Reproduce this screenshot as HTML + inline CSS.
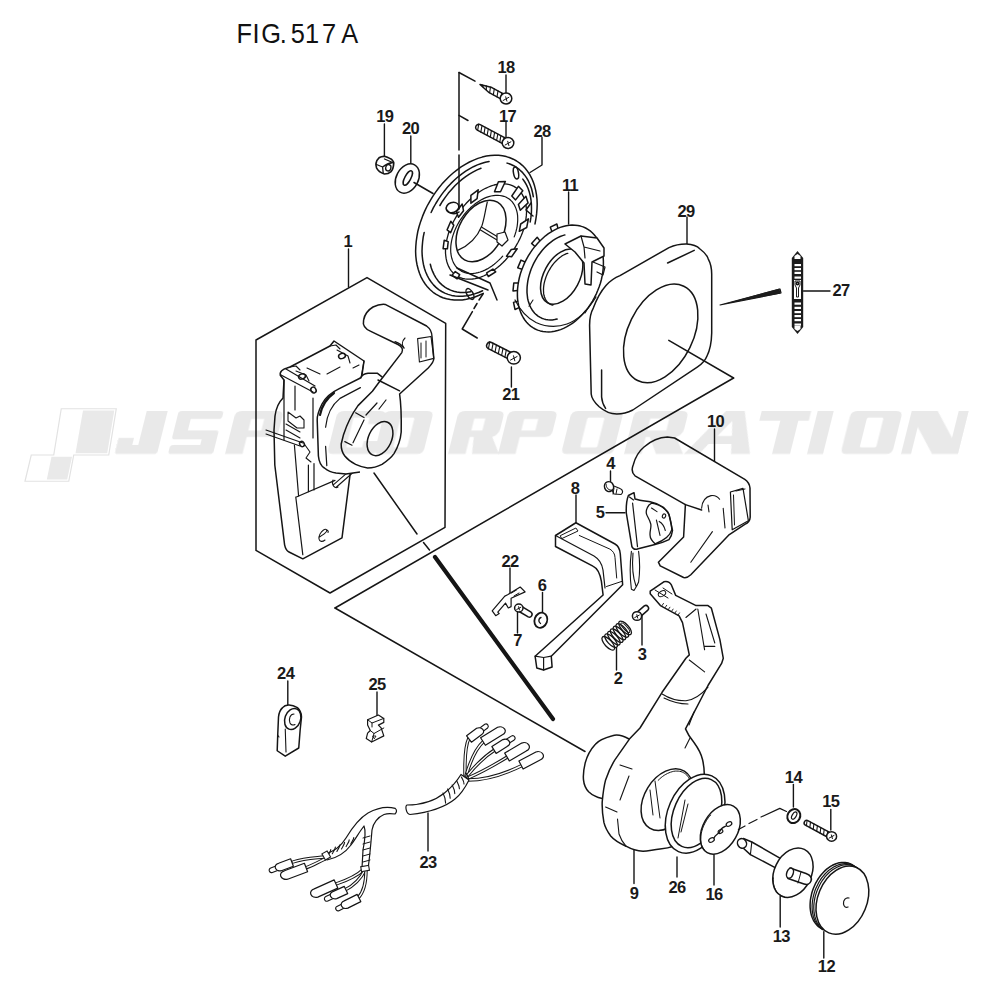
<!DOCTYPE html>
<html><head><meta charset="utf-8">
<style>
html,body{margin:0;padding:0;background:#fff;width:1000px;height:1000px;overflow:hidden}
svg{display:block}
.l{fill:none;stroke:#151515;stroke-width:1.5;stroke-linecap:round;stroke-linejoin:round}
.w{fill:#fff;stroke:#151515;stroke-width:1.5;stroke-linejoin:round}
.t{font-family:"Liberation Sans",sans-serif;font-weight:bold;font-size:16.5px;fill:#1a1a1a;text-anchor:middle;letter-spacing:-0.6px}
.wm{fill:#e8e8e8}
</style></head><body>
<svg width="1000" height="1000" viewBox="0 0 1000 1000">
<text transform="translate(244.2,42.6) scale(0.92,1)" x="0" y="0" style="font-family:'Liberation Sans',sans-serif;font-size:27.6px;fill:#111;text-anchor:middle">F</text>
<text transform="translate(256,42.6) scale(0.92,1)" x="0" y="0" style="font-family:'Liberation Sans',sans-serif;font-size:27.6px;fill:#111;text-anchor:middle">I</text>
<text transform="translate(271.2,42.6) scale(0.92,1)" x="0" y="0" style="font-family:'Liberation Sans',sans-serif;font-size:27.6px;fill:#111;text-anchor:middle">G</text>
<text transform="translate(283.4,42.6) scale(0.92,1)" x="0" y="0" style="font-family:'Liberation Sans',sans-serif;font-size:27.6px;fill:#111;text-anchor:middle">.</text>
<text transform="translate(297.9,42.6) scale(0.92,1)" x="0" y="0" style="font-family:'Liberation Sans',sans-serif;font-size:27.6px;fill:#111;text-anchor:middle">5</text>
<text transform="translate(312.0,42.6) scale(0.92,1)" x="0" y="0" style="font-family:'Liberation Sans',sans-serif;font-size:27.6px;fill:#111;text-anchor:middle">1</text>
<text transform="translate(329.1,42.6) scale(0.92,1)" x="0" y="0" style="font-family:'Liberation Sans',sans-serif;font-size:27.6px;fill:#111;text-anchor:middle">7</text>
<text transform="translate(349.6,42.6) scale(0.92,1)" x="0" y="0" style="font-family:'Liberation Sans',sans-serif;font-size:27.6px;fill:#111;text-anchor:middle">A</text>
<text class="t" x="506" y="73.1">18</text>
<line class="l" x1="506" y1="75" x2="506" y2="95" style="stroke-width:1.4"/>
<text class="t" x="507.5" y="121.6">17</text>
<line class="l" x1="506" y1="122.5" x2="506" y2="137" style="stroke-width:1.4"/>
<text class="t" x="384.75" y="122.1">19</text>
<line class="l" x1="384.4" y1="124" x2="384.4" y2="157" style="stroke-width:1.4"/>
<text class="t" x="410.6" y="133.6">20</text>
<line class="l" x1="410.8" y1="136" x2="410.8" y2="163" style="stroke-width:1.4"/>
<text class="t" x="542" y="136.6">28</text>
<text class="t" x="570" y="190.6">11</text>
<line class="l" x1="568.6" y1="192" x2="568.6" y2="224" style="stroke-width:1.4"/>
<text class="t" x="347.8" y="246.6">1</text>
<line class="l" x1="348.5" y1="249" x2="348.5" y2="287" style="stroke-width:1.4"/>
<text class="t" x="686" y="216.6">29</text>
<line class="l" x1="687" y1="217" x2="687" y2="245" style="stroke-width:1.4"/>
<text class="t" x="841" y="296.1">27</text>
<line class="l" x1="803.5" y1="291" x2="830" y2="291" style="stroke-width:1.4"/>
<text class="t" x="510.8" y="400.0">21</text>
<line class="l" x1="511.4" y1="367" x2="511.4" y2="387" style="stroke-width:1.4"/>
<text class="t" x="715.5" y="427.1">10</text>
<line class="l" x1="714.5" y1="429" x2="714.5" y2="461" style="stroke-width:1.4"/>
<text class="t" x="610.5" y="468.6">4</text>
<line class="l" x1="610.5" y1="471" x2="610.5" y2="481.5" style="stroke-width:1.4"/>
<text class="t" x="600" y="517.6">5</text>
<line class="l" x1="606" y1="512.7" x2="625" y2="512.7" style="stroke-width:1.4"/>
<text class="t" x="575" y="493.6">8</text>
<line class="l" x1="576" y1="495" x2="576" y2="522.5" style="stroke-width:1.4"/>
<text class="t" x="510" y="566.6">22</text>
<line class="l" x1="510" y1="568" x2="510" y2="593" style="stroke-width:1.4"/>
<text class="t" x="542" y="590.6">6</text>
<line class="l" x1="542.5" y1="592.5" x2="542.5" y2="613" style="stroke-width:1.4"/>
<text class="t" x="517.5" y="646.1">7</text>
<line class="l" x1="517.5" y1="612" x2="517.5" y2="633" style="stroke-width:1.4"/>
<text class="t" x="642" y="659.6">3</text>
<line class="l" x1="642" y1="615" x2="642" y2="645" style="stroke-width:1.4"/>
<text class="t" x="618" y="683.6">2</text>
<line class="l" x1="616.5" y1="648" x2="616.5" y2="670" style="stroke-width:1.4"/>
<text class="t" x="285.7" y="678.6">24</text>
<line class="l" x1="287.8" y1="681" x2="287.8" y2="706" style="stroke-width:1.4"/>
<text class="t" x="377" y="689.6">25</text>
<line class="l" x1="377" y1="692" x2="377" y2="717" style="stroke-width:1.4"/>
<text class="t" x="428" y="867.6">23</text>
<line class="l" x1="428" y1="813" x2="428" y2="851" style="stroke-width:1.4"/>
<text class="t" x="634" y="899.0">9</text>
<line class="l" x1="634" y1="850.5" x2="634" y2="883.5" style="stroke-width:1.4"/>
<text class="t" x="677" y="892.6">26</text>
<line class="l" x1="677" y1="857" x2="677" y2="877" style="stroke-width:1.4"/>
<text class="t" x="714" y="899.6">16</text>
<line class="l" x1="714" y1="854.6" x2="714" y2="885" style="stroke-width:1.4"/>
<text class="t" x="793.4" y="783.2">14</text>
<line class="l" x1="793.4" y1="784.5" x2="793.4" y2="807" style="stroke-width:1.4"/>
<text class="t" x="830.8" y="807.4">15</text>
<line class="l" x1="830.8" y1="809.5" x2="830.8" y2="830" style="stroke-width:1.4"/>
<text class="t" x="781.3" y="941.6">13</text>
<line class="l" x1="780.2" y1="896" x2="780.2" y2="927" style="stroke-width:1.4"/>
<text class="t" x="826.4" y="972.4">12</text>
<line class="l" x1="823.8" y1="931.6" x2="823.8" y2="958" style="stroke-width:1.4"/>
<path class="l" d="M542,137.5 L542,165 L530,172.5" style="stroke-width:1.4"/>
<path class="l" d="M256,340 L367,277.6 L445.7,323.4 L445,527.3 L330,593 L256,550.4 Z"/>
<line class="l" x1="335" y1="608" x2="733.6" y2="378"/>
<line class="l" x1="335" y1="608" x2="585" y2="751.5"/>
<line class="l" x1="374" y1="473" x2="417" y2="534"/>
<line class="l" x1="423.5" y1="542.5" x2="429.5" y2="550"/>
<line class="l" x1="435" y1="557" x2="553" y2="719" style="stroke-width:4.2"/>
<path class="l" d="M459,72.5 L475,81.2"/>
<path class="l" d="M459,115.4 L468,120.5"/>
<path class="w" d="M480.0,84.5 L489.2,92.7 L502.1,99.7 L504.8,94.6 L491.9,87.6 Z"/>
<path class="l" d="M483.1,87.0 L482.1,84.8" style="stroke-width:1.1"/>
<path class="l" d="M486.4,89.9 L486.3,85.9" style="stroke-width:1.1"/>
<path class="l" d="M489.6,92.8 L490.5,87.0" style="stroke-width:1.1"/>
<path class="l" d="M493.3,94.9 L494.3,88.9" style="stroke-width:1.1"/>
<path class="l" d="M497.0,96.9 L498.0,90.9" style="stroke-width:1.1"/>
<path class="l" d="M500.7,99.0 L501.7,92.9" style="stroke-width:1.1"/>
<ellipse class="w" cx="506" cy="98.5" rx="5.8" ry="5.51" transform="rotate(0 506 98.5)"/>
<path class="l" d="M503.1,100.5 L508.9,97.3 M505.7,96.8 L506.9,101.1" style="stroke-width:1.0"/>
<path class="w" d="M477.3,130.2 L504.0,144.4 L506.9,138.9 L480.2,124.7 A3.1,3.1 0 0 0 477.3,130.2 Z"/>
<path class="l" d="M477.6,130.4 L478.8,124.0" style="stroke-width:1.1"/>
<path class="l" d="M480.8,132.1 L482.0,125.7" style="stroke-width:1.1"/>
<path class="l" d="M484.0,133.7 L485.1,127.3" style="stroke-width:1.1"/>
<path class="l" d="M487.1,135.4 L488.3,129.0" style="stroke-width:1.1"/>
<path class="l" d="M490.3,137.1 L491.4,130.7" style="stroke-width:1.1"/>
<path class="l" d="M493.5,138.8 L494.6,132.4" style="stroke-width:1.1"/>
<path class="l" d="M496.6,140.5 L497.8,134.1" style="stroke-width:1.1"/>
<path class="l" d="M499.8,142.2 L500.9,135.7" style="stroke-width:1.1"/>
<path class="l" d="M503.0,143.8 L504.1,137.4" style="stroke-width:1.1"/>
<ellipse class="w" cx="508" cy="143" rx="5.8" ry="5.51" transform="rotate(0 508 143)"/>
<path class="l" d="M505.1,145.0 L510.9,141.8 M507.7,141.3 L508.9,145.6" style="stroke-width:1.0"/>
<path class="w" d="M384.4,156.3 C388,157.5 391,158.5 392.2,160 C393.5,161.5 393.8,162.5 393.7,163.5 C393.5,167 392.5,170 391,171.6 C389,173.5 386.5,174 384.4,174 C381,173 378,171 376.6,168 C376,166 375.8,164.5 376,163.5 C376.5,161 377.5,159 379,157.8 C381,156.5 383,156.2 384.4,156.3 Z" style="stroke-width:1.7"/>
<path class="l" d="M376.5,164.5 L382.6,167 L383.2,173 M382.6,167 C385,165 389,163 393,162.5 M384.5,159 L391.5,162" style="stroke-width:1.3"/>
<ellipse class="l" cx="388.3" cy="167.8" rx="2.6" ry="3.2" transform="rotate(15 388.3 167.8)" style="stroke-width:1.3"/>
<ellipse class="w" cx="407.3" cy="178.5" rx="11" ry="15.5" transform="rotate(28 407.3 178.5)"/>
<ellipse class="l" cx="407.8" cy="178" rx="3" ry="8" transform="rotate(28 407.8 178)"/>
<line class="l" x1="414" y1="182.5" x2="433" y2="193.5"/>
<path class="w" style="stroke:none" d="M515.8,160.5 L518.9,162.6 L521.9,164.9 L524.6,167.6 L527.0,170.6 L529.3,173.8 L531.2,177.4 L532.9,181.1 L534.3,185.1 L535.5,189.3 L536.3,193.7 L536.9,198.2 L537.1,202.9 L537.1,207.7 L536.8,212.6 L536.1,217.6 L535.2,222.6 L534.0,227.7 L532.5,232.7 L530.8,237.8 L528.8,242.7 L526.5,247.7 L524.0,252.5 L521.2,257.2 L518.3,261.7 L515.1,266.1 L511.7,270.3 L508.2,274.3 L504.5,278.0 L500.7,281.5 L496.7,284.8 L492.7,287.8 L488.6,290.4 L484.4,292.8 L480.2,294.9 L475.9,296.6 L471.7,298.0 L467.5,299.1 L463.3,299.8 L459.2,300.1 L455.2,300.1 L451.2,299.8 L447.5,299.1 L443.8,298.0 L440.3,296.6 L437.0,294.9 L433.9,292.8 L430.9,290.5 L428.2,287.8 L425.8,284.8 L423.5,281.6 L421.6,278.0 L419.9,274.3 L418.5,270.3 L417.3,266.1 L416.5,261.7 L415.9,257.2 L415.7,252.5 L415.7,247.7 L416.0,242.8 L416.7,237.8 L417.6,232.8 L418.8,227.7 L420.3,222.7 L422.0,217.6 L424.0,212.7 L426.3,207.7 L428.8,202.9 L431.6,198.2 L434.5,193.7 L437.7,189.3 L441.1,185.1 L444.6,181.1 L448.3,177.4 L452.1,173.9 L456.1,170.6 L460.1,167.6 L464.2,165.0 L468.4,162.6 L472.6,160.5 L476.9,158.8 L481.1,157.4 L485.3,156.3 L489.5,155.6 L493.6,155.3 L497.6,155.3 L501.6,155.6 L505.3,156.3 L509.0,157.4 L512.5,158.8 L515.8,160.5 Z"/>
<path class="l" d="M483.3,293.4 L479.1,295.3 L474.9,297.0 L470.6,298.3 L466.4,299.3 L462.3,299.9 L458.2,300.1 L454.2,300.1 L450.3,299.6 L446.5,298.8 L442.9,297.7 L439.5,296.2 L436.2,294.4 L433.1,292.3 L430.2,289.8 L427.6,287.1 L425.2,284.0 L423.0,280.7 L421.1,277.1 L419.5,273.3 L418.2,269.3 L417.1,265.0 L416.3,260.6 L415.8,256.0 L415.6,251.3 L415.8,246.5 L416.2,241.5 L416.9,236.6 L417.8,231.5 L419.1,226.5 L420.7,221.4 L422.5,216.4 L424.6,211.4 L426.9,206.5 L429.5,201.8 L432.3,197.1 L435.3,192.6 L438.5,188.3 L441.9,184.1 L445.5,180.2 L449.2,176.5 L453.1,173.0 L457.1,169.8 L461.1,166.9 L465.3,164.3 L469.5,162.0 L473.7,160.1 L477.9,158.4 L482.2,157.1 L486.4,156.1 L490.5,155.5 L494.6,155.3 L498.6,155.3 L502.5,155.8 L506.3,156.6 L509.9,157.7 L513.3,159.2 L516.6,161.0 L519.7,163.1 L522.6,165.6 L525.2,168.3 L527.6,171.4 L529.8,174.7 L531.7,178.3 L533.3,182.1 L534.6,186.1 L535.7,190.4 L536.5,194.8 L537.0,199.4 L537.2,204.1 L537.0,208.9 L536.6,213.9 L535.9,218.8 L535.0,223.9"/>
<path class="l" d="M482.6,290.7 L478.6,292.5 L474.5,293.9 L470.6,295.0 L466.6,295.8 L462.7,296.2 L458.9,296.2 L455.2,296.0 L451.6,295.4 L448.1,294.4 L444.8,293.1 L441.7,291.5 L438.7,289.6 L436.0,287.4 L433.5,284.9 L431.2,282.0 L429.1,279.0 L427.3,275.6 L425.7,272.0 L424.4,268.2 L423.4,264.2 L422.7,260.1 L422.2,255.7 L422.0,251.2 L422.2,246.6 L422.6,242.0 L423.2,237.2 L424.2,232.4"/>
<path class="l" d="M470.8,291.8 L467.2,292.3 L463.7,292.5 L460.2,292.4 L456.9,291.9 L453.7,291.2 L450.6,290.1 L447.7,288.8 L444.9,287.1 L442.3,285.1 L439.9,282.9 L437.8,280.4 L435.8,277.6 L434.1,274.6 L432.6,271.4 L431.3,268.0 L430.3,264.3"/>
<path class="l" d="M431.1,212.5 L433.3,207.9 L435.8,203.5 L438.5,199.1 L441.4,194.9 L444.4,190.9 L447.6,187.1 L451.0,183.4 L454.5,180.0 L458.1,176.8 L461.9,173.9 L465.7,171.2 L469.5,168.8 L473.4,166.7 L477.4,164.9 L481.3,163.5 L485.3,162.3 L489.1,161.4"/>
<path class="l" d="M439.9,205.5 L442.5,201.2 L445.4,197.1 L448.4,193.1 L451.6,189.4 L454.9,185.8 L458.4,182.5 L462.0,179.4 L465.7,176.6 L469.4,174.1 L473.3,171.9 L477.1,169.9 L481.0,168.3"/>
<path class="l" d="M507.1,163.1 L510.5,164.2 L513.7,165.7 L516.7,167.5 L519.5,169.7 L522.1,172.1 L524.5,174.9 L526.6,177.9 L528.5,181.2 L530.1,184.7 L531.5,188.5 L532.5,192.5 L533.3,196.7"/>
<path class="l" d="M522.8,179.1 L524.8,182.0 L526.6,185.1 L528.1,188.5 L529.3,192.1 L530.3,196.0 L531.0,200.0 L531.4,204.1 L531.5,208.5 L531.4,212.9 L530.9,217.4 L530.2,222.0"/>
<path class="l" d="M515.8,187.6 L517.7,189.0 L519.4,190.6 L520.9,192.4 L522.2,194.4 L523.4,196.6 L524.4,198.9 L525.2,201.5 L525.8,204.1 L526.2,206.9 L526.5,209.8 L526.5,212.8 L526.3,215.9 L525.9,219.1 L525.4,222.4 L524.6,225.7 L523.7,229.0 L522.6,232.3 L521.3,235.6 L519.8,238.9 L518.1,242.2 L516.3,245.4 L514.4,248.6 L512.3,251.6 L510.1,254.6 L507.8,257.4 L505.3,260.2 L502.8,262.8 L500.2,265.2 L497.5,267.5 L494.8,269.6 L492.0,271.5 L489.2,273.2 L486.4,274.7 L483.5,276.0 L480.7,277.1 L477.9,278.0 L475.2,278.6 L472.5,279.0 L469.9,279.2 L467.3,279.1 L464.9,278.8 L462.5,278.3 L460.3,277.6 L458.1,276.6 L456.2,275.4 L454.3,274.0 L452.6,272.4 L451.1,270.6 L449.8,268.6 L448.6,266.4 L447.6,264.1 L446.8,261.5 L446.2,258.9 L445.8,256.1 L445.5,253.2 L445.5,250.2 L445.7,247.1 L446.1,243.9 L446.6,240.6 L447.4,237.3 L448.3,234.0 L449.4,230.7 L450.7,227.4 L452.2,224.1 L453.9,220.8 L455.7,217.6 L457.6,214.4 L459.7,211.4 L461.9,208.4 L464.2,205.6 L466.7,202.8 L469.2,200.2 L471.8,197.8 L474.5,195.5 L477.2,193.4 L480.0,191.5 L482.8,189.8 L485.6,188.3 L488.5,187.0 L491.3,185.9 L494.1,185.0 L496.8,184.4 L499.5,184.0 L502.1,183.8 L504.7,183.9 L507.1,184.2 L509.5,184.7 L511.7,185.4 L513.9,186.4 L515.8,187.6" style="stroke-width:1.3"/>
<path class="l" d="M502.7,256.1 L500.7,258.3 L498.6,260.4 L496.4,262.4 L494.2,264.2 L491.9,265.9 L489.6,267.5 L487.3,268.9 L484.9,270.1 L482.6,271.1 L480.2,272.0 L477.9,272.6 L475.6,273.1 L473.4,273.4 L471.2,273.5 L469.0,273.4 L467.0,273.1 L465.0,272.6 L463.1,272.0 L461.3,271.1 L459.7,270.1 L458.1,268.9 L456.7,267.5 L455.4,265.9 L454.3,264.2 L453.3,262.4 L452.5,260.4 L451.8,258.3 L451.3,256.1 L450.9,253.7 L450.7,251.3 L450.7,248.8 L450.8,246.2 L451.1,243.6 L451.6,240.9 L452.2,238.1 L453.0,235.4 L453.9,232.7 L455.0,229.9 L456.2,227.2 L457.6,224.5 L459.1,221.9 L460.7,219.3 L462.5,216.8 L464.3,214.4 L466.2,212.1 L468.3,209.9 L470.4,207.8 L472.6,205.9 L474.8,204.1 L477.1,202.4 L479.4,200.9 L481.7,199.6 L484.1,198.4 L486.4,197.4 L488.8,196.6 L491.1,196.0 L493.4,195.6 L495.6,195.4 L497.8,195.3 L499.9,195.5 L502.0,195.8 L503.9,196.3 L505.8,197.0 L507.5,198.0 L509.2,199.0 L510.7,200.3 L512.1,201.7 L513.3,203.3 L514.4,205.0 L515.3,206.9 L516.1,208.9 L516.8,211.1 L517.3,213.4 L517.6,215.7 L517.7,218.2 L517.7,220.7 L517.5,223.3 L517.2,226.0 L516.7,228.7 L516.0,231.4 L515.2,234.1 L514.2,236.9" style="stroke-width:1.2"/>
<path class="w" d="M494.5,191.8 L498.4,181.7 L505.4,181.5 L500.5,191.7 Z" style="stroke-width:1.5"/>
<path class="w" d="M511.8,196.0 L518.4,186.3 L522.8,190.8 L515.6,199.9 Z" style="stroke-width:1.5"/>
<path class="w" d="M518.4,204.5 L525.9,196.2 L528.1,202.9 L520.3,210.3 Z" style="stroke-width:1.5"/>
<path class="w" d="M520.7,224.0 L528.4,218.9 L526.7,227.5 L519.3,231.3 Z" style="stroke-width:1.5"/>
<path class="w" d="M511.3,249.5 L517.2,248.8 L511.6,256.7 L506.5,256.2 Z" style="stroke-width:1.5"/>
<path class="w" d="M492.9,269.1 L495.7,271.9 L488.3,276.5 L486.6,272.9 Z" style="stroke-width:1.5"/>
<path class="w" d="M459.7,274.7 L457.1,278.9 L452.0,275.3 L455.3,271.6 Z" style="stroke-width:1.5"/>
<path class="w" d="M447.4,248.8 L443.1,248.7 L444.2,240.3 L448.2,241.6 Z" style="stroke-width:1.5"/>
<path class="w" d="M450.6,232.7 L447.1,229.9 L450.8,221.2 L453.8,225.3 Z" style="stroke-width:1.5"/>
<path class="w" d="M458.5,217.3 L456.4,211.8 L462.2,204.0 L463.5,210.7 Z" style="stroke-width:1.5"/>
<path class="w" d="M470.9,203.2 L470.9,195.3 L478.2,189.8 L477.1,198.6 Z" style="stroke-width:1.5"/>
<ellipse class="l" cx="481" cy="231" rx="33.2" ry="21.7" transform="rotate(-60.2 481 231)"/>
<path class="l" d="M487.3,202 C485,212 484,220 481.8,226 C477,238 468,246 457.6,250.4" style="stroke-width:1.2"/>
<line class="l" x1="481.8" y1="227.3" x2="498.3" y2="237.2" style="stroke-width:1.2"/>
<line class="l" x1="480.5" y1="230" x2="497" y2="240" style="stroke-width:1.2"/>
<path class="w" d="M497,234 L505,232 L508,240 L502,246 L497,242 Z" style="stroke-width:1.2"/>
<ellipse class="l" cx="452.5" cy="207.5" rx="6.5" ry="5" transform="rotate(-20 452.5 207.5)"/>
<path class="l" d="M447,210 C449,214 455,215 459,212"/>
<ellipse class="l" cx="516" cy="173" rx="2.5" ry="6" transform="rotate(-10 516 173)"/>
<path class="l" d="M457,268 L490,283 L497,300 M450,275 L488,290"/>
<ellipse class="l" cx="470" cy="294" rx="3" ry="6" transform="rotate(-30 470 294)"/>
<path class="l" d="M531,203 L526,210 L533,216"/>
<path class="l" d="M459,72.5 L459,150 M459,155 L459,209"/>
<path class="w" d="M551.9,231.4 L550.3,227.2 L556.9,224.0 L557.9,228.4"/>
<path class="w" d="M534.9,246.5 L531.6,243.4 L537.2,237.3 L539.9,240.9"/>
<path class="w" d="M522.0,269.2 L517.7,267.9 L521.0,260.1 L525.1,262.0"/>
<path class="w" d="M517.5,290.4 L513.0,290.9 L513.8,282.9 L518.3,283.1"/>
<path class="w" d="M519.1,307.6 L515.0,309.5 L513.5,302.4 L517.8,301.1"/>
<path class="w" d="M585.6,228.0 L587.9,229.4 L590.2,230.9 L592.3,232.7 L594.2,234.8 L596.0,237.0 L597.6,239.5 L599.0,242.1 L600.2,244.9 L601.3,247.9 L602.1,251.0 L602.7,254.3 L603.2,257.7 L603.4,261.1 L603.4,264.7 L603.2,268.3 L602.8,272.0 L602.2,275.7 L601.4,279.5 L600.4,283.2 L599.1,286.9 L597.7,290.5 L596.2,294.1 L594.4,297.7 L592.5,301.1 L590.4,304.4 L588.2,307.6 L585.8,310.6 L583.3,313.5 L580.7,316.3 L578.0,318.8 L575.3,321.2 L572.4,323.3 L569.5,325.2 L566.5,326.9 L563.6,328.4 L560.6,329.6 L557.6,330.5 L554.6,331.2 L551.6,331.7 L548.7,331.9 L545.8,331.8 L543.0,331.5 L540.3,330.9 L537.7,330.1 L535.2,329.0 L532.9,327.6 L530.6,326.1 L528.5,324.3 L526.6,322.2 L524.8,320.0 L523.2,317.5 L521.8,314.9 L520.6,312.1 L519.5,309.1 L518.7,306.0 L518.1,302.7 L517.6,299.3 L517.4,295.9 L517.4,292.3 L517.6,288.7 L518.0,285.0 L518.6,281.3 L519.4,277.5 L520.4,273.8 L521.7,270.1 L523.1,266.5 L524.6,262.9 L526.4,259.3 L528.3,255.9 L530.4,252.6 L532.6,249.4 L535.0,246.4 L537.5,243.5 L540.1,240.7 L542.8,238.2 L545.5,235.8 L548.4,233.7 L551.3,231.8 L554.3,230.1 L557.2,228.6 L560.2,227.4 L563.2,226.5 L566.2,225.8 L569.2,225.3 L572.1,225.1 L575.0,225.2 L577.8,225.5 L580.5,226.1 L583.1,226.9 L585.6,228.0 Z"/>
<path class="l" d="M515,300 C520,310 527,318 536,322.5 C546,327 557,327.5 567,324 C578,320 588,310 596,297" style="stroke-width:1.2"/>
<path class="l" d="M557.1,319.1 L554.7,319.6 L552.4,319.9 L550.1,319.9 L547.9,319.8 L545.7,319.5 L543.7,318.9 L541.7,318.2 L539.8,317.2 L538.0,316.1 L536.3,314.7 L534.7,313.2 L533.3,311.5 L532.0,309.7 L530.8,307.6 L529.8,305.5 L528.9,303.1 L528.2,300.7 L527.6,298.2 L527.3,295.5 L527.0,292.7 L527.0,289.9 L527.1,287.0 L527.4,284.1 L527.8,281.1 L528.4,278.1 L529.2,275.1 L530.1,272.2 L531.1,269.2 L532.4,266.3 L533.7,263.4 L535.2,260.6 L536.8,257.9 L538.5,255.2 L540.4,252.7 L542.3,250.3 L544.3,248.0 L546.4,245.9 L548.6,243.9 L550.9,242.1 L553.1,240.4 L555.5,238.9 L557.8,237.6 L560.2,236.5 L562.6,235.6 L564.9,234.9"/>
<ellipse class="l" cx="561.7" cy="276.6" rx="29.8" ry="17.9" transform="rotate(-61.7 561.7 276.6)"/>
<path class="l" d="M552.8,305.1 L551.6,304.8 L550.5,304.4 L549.5,303.8 L548.5,303.1 L547.6,302.3 L546.8,301.4 L546.1,300.4 L545.4,299.3 L544.9,298.1 L544.4,296.7 L544.0,295.3 L543.7,293.9 L543.6,292.3 L543.5,290.7 L543.5,289.0 L543.6,287.3 L543.8,285.5 L544.1,283.7 L544.5,281.9 L545.0,280.1 L545.6,278.3 L546.2,276.4 L547.0,274.6 L547.8,272.8 L548.7,271.0 L549.7,269.3 L550.7,267.6 L551.8,266.0 L553.0,264.4 L554.2,262.9 L555.5,261.5 L556.8,260.2 L558.1,258.9 L559.5,257.8 L560.9,256.8 L562.2,255.8 L563.6,255.0 L565.0,254.3 L566.4,253.7 L567.8,253.3" style="stroke-width:1.3"/>
<path class="l" d="M529,306.2 L533,300 M585,313 L590,305" style="stroke-width:1.1"/>
<path class="w" d="M565,244 L581,236 L597,238 L604,248 L604,256 L592,262 L591,285 L585,284 L584,263 L575,252 Z"/>
<path class="l" d="M581,236 L584,247 L600,251 M584,247 L585,258" style="stroke-width:1.2"/>
<path class="l" d="M593,262 L605,267 L603,275 L597,272" style="stroke-width:1.2"/>
<path class="w" d="M686.5,244.1 C693,244.5 697,246 700,249 C704,252 707,255 708.2,258.8 C710.5,263 711.7,268 711.7,274.2 L711.7,333 C711.5,342 710,350 707,356 C705,361 702,364 697.6,366.8 L632.8,410 C627,413 622,414 616.8,414 C610,414 604,411 599.2,406.8 C594,402 591.5,398 591.2,394 L589.6,326 C589.5,318 591,312 593.4,307.8 C597,298 601,291 606,285.4 C610,281 614,278 620,275.6 L669,247.6 C675,245 680,244 686.5,244.1 Z"/>
<path class="l" d="M667.6,263 L694.2,250.4"/>
<path class="l" d="M601.6,370 L601.6,397 C602,402 603.5,405.5 605.6,408.4"/>
<ellipse class="l" cx="660.7" cy="333.4" rx="52.5" ry="32.5" transform="rotate(-63.9 660.7 333.4)"/>
<line class="l" x1="668.8" y1="340.4" x2="733.6" y2="378"/>
<path class="l" d="M720,305 L780,289 L781,293 Z" style="stroke-width:1.2"/>
<path d="M722,304.5 L779.5,288.5 L780.5,293.5 Z" fill="#1c1c1c"/>
<path d="M797.5,251 L803.2,258 L803.2,327 L797.5,334 L791.8,327 L791.8,258 Z" fill="#1c1c1c"/>
<rect x="794.5" y="264" width="6.5" height="2.2" fill="#fff"/>
<rect x="794.5" y="268" width="6.5" height="2.2" fill="#fff"/>
<rect x="794.5" y="271.8" width="6.5" height="2.2" fill="#fff"/>
<rect x="794.5" y="276.5" width="6.5" height="2.2" fill="#fff"/>
<rect x="794.5" y="302.5" width="6.5" height="2.2" fill="#fff"/>
<rect x="794.5" y="306.8" width="6.5" height="2.2" fill="#fff"/>
<rect x="794.5" y="311" width="6.5" height="2.2" fill="#fff"/>
<rect x="794.5" y="315" width="6.5" height="2.2" fill="#fff"/>
<rect x="794.5" y="319" width="6.5" height="2.2" fill="#fff"/>
<rect x="794.5" y="323.5" width="6.5" height="2.2" fill="#fff"/>
<path d="M794.5,256 L797.5,254 L800.5,256 L800.5,259 L794.5,259 Z" fill="#fff"/>
<path d="M794.5,326 L800.5,326 L800.5,329 L797.5,331 L794.5,329 Z" fill="#fff"/>
<path d="M794,280 L801,280 L801,299 L794,299 Z" fill="#fff"/>
<path d="M795,281 L800,281 L800,285 L798.5,288 L798.5,297 L796.5,297 L796.5,288 L795,285 Z" fill="none" stroke="#1c1c1c" stroke-width="1"/>
<ellipse class="l" cx="797.5" cy="283.5" rx="1.2" ry="1.2" transform="rotate(0 797.5 283.5)"/>
<path class="l" d="M280.5,375.5 L284,380 L283,398 C279,402 276,408 275,416 L274,430 L274.8,465 L284.6,544.8 C285.5,549 287,551 289,552 L302.8,558.8 L342,537.8 L350.4,472 L354.6,466.4"/>
<path class="l" d="M280.5,375.5 C279,372 283,369 287,368 L290,367 L330,346 L334,341 L364,361 L362,375"/>
<path class="l" d="M281,375 L313,392 M286,369 L315,386" style="stroke-width:1.2"/>
<ellipse class="l" cx="313.5" cy="390" rx="2.5" ry="3" transform="rotate(-30 313.5 390)"/>
<path class="l" d="M290,367 L296,366 L300,370 M330,346 L336,345 L340,349" style="stroke-width:1.1"/>
<ellipse class="l" cx="302" cy="376.5" rx="3.5" ry="2.5" transform="rotate(-20 302 376.5)"/>
<ellipse class="l" cx="342" cy="356" rx="3.5" ry="2.5" transform="rotate(-20 342 356)"/>
<path class="l" d="M296,371 L306,375 L309,381 M337,350 L348,356 L350,363" style="stroke-width:1.1"/>
<path class="l" d="M307,368 L320,374 M327,374 L340,367 M353,368 L359,365" style="stroke-width:1.1"/>
<path class="l" d="M364,361 L361,378" style="stroke-width:1.2"/>
<path class="l" d="M284,380 L284,440 M295,386 L295,410 M313,398 L313,438 M294.4,445 L298.6,496 M308.4,465 L308.4,491.6 M314,463.6 L314,490" style="stroke-width:1.2"/>
<path class="l" d="M288,412 L296,418 L300,416 L304,420 L304,428 L297,428 L288,421 Z" style="stroke-width:1.1"/>
<path class="l" d="M286,424 L300,432 M286,430 L300,438" style="stroke-width:1.1"/>
<path class="l" d="M266,430 L303,443 M266,434 L300,446" style="stroke-width:1.1"/>
<ellipse class="l" cx="302" cy="444" rx="2.2" ry="2.8" transform="rotate(-30 302 444)"/>
<path class="l" d="M305,445 L310,452 L306,458 L311,462" style="stroke-width:1.1"/>
<path class="l" d="M295.8,497.2 L335,480.4 M295.8,497.2 L302.8,554.6" style="stroke-width:1.2"/>
<path class="l" d="M319.5,537 C322,535.5 325,533.5 326.5,531.5 C327.5,529.5 325.5,528.5 323.5,530 C320.5,532 318.5,536 319,539 C319.5,542 322.5,542 325,540 M327,530 C328,530.5 328.5,531.5 328,532.5" style="stroke-width:1.1"/>
<path class="l" d="M333.6,484.6 L354.6,466.4 M336.5,487 L357,469 M333,480 C331,485 335,489 338,487" style="stroke-width:1.1"/>
<path class="w" d="M360.4,378 L338.8,388.8 C330,393 325,398 322,404 C318,412 317,416 317.2,420 L318.4,456 C319,462 321,466 324.4,468 C328,471 332,472.5 336,473 L346,474 L360,472"/>
<path class="l" d="M360.4,378 C362,375 365,373.5 368,373.2 L377.2,373.2 L382,376.8"/>
<path class="l" d="M325.6,427.2 C327,413 333,404 340,398.4 L360.4,387.6 M325.6,446.4 L326.8,465.6" style="stroke-width:1.2"/>
<path class="l" d="M320,415 C322,405 327,398 334,393" style="stroke-width:2.2"/>
<path class="w" d="M370.8,331.4 C365,329 362.5,325 363.6,320 C364.5,315 368,310 373,307 C377,305 381,304 385.2,304.4 L426.6,326 C430,328.5 432,332 432,336.8 L433.8,358.4 C434,361 432,364 428.2,368 L404,390 L399.6,394 C400.5,400 401.5,415 401.2,432 C400.5,440 398,447 394,453.6 C391,458 387,461 382,464.4 C377,467 372,468 367.6,468 C363,467.5 359,466 355.6,464.4 C351,462 348,460 344.8,456 C342.5,453 341,450 341.2,444 L343.6,434.4 C347,424 352,414 358,405.6 L372.4,391.2 L379.8,381.2 L401.8,352.6 C403.5,349.5 402,346.5 398,344.5 Z"/>
<ellipse class="l" cx="380" cy="438.6" rx="11.5" ry="18" transform="rotate(25 380 438.6)"/>
<path class="l" d="M355.6,412.8 L364,417.6 M364,420 L353,442.8 M344.8,441.6 L352,445.2 M366,415 L377,403 M379,409 L386,400" style="stroke-width:1.2"/>
<line class="l" x1="378" y1="380" x2="399.6" y2="390.8"/>
<path class="l" d="M395,341.6 C399,343 402,345 404,348" style="stroke-width:1.2"/>
<path class="l" d="M417.6,338.6 L431,336.5 L433.8,358.4 L419.4,362 Z" style="stroke-width:1.1"/>
<path class="l" d="M421,343 L421,358 M426,341 L426,357" style="stroke-width:1.0"/>
<path class="l" d="M405,338 C402,341 401.5,345 404,348" style="stroke-width:1.1"/>
<path class="l" d="M477.2,338 L462.2,329 L472.4,311.6"/>
<path class="l" d="M474,308.5 L477,303.5 M479,300 L483,294"/>
<path class="w" d="M488.3,348.7 L509.3,359.4 L512.5,353.2 L491.5,342.5 A3.5,3.5 0 0 0 488.3,348.7 Z"/>
<path class="l" d="M488.4,348.8 L489.8,341.6" style="stroke-width:1.1"/>
<path class="l" d="M491.7,350.4 L493.1,343.3" style="stroke-width:1.1"/>
<path class="l" d="M495.0,352.1 L496.4,345.0" style="stroke-width:1.1"/>
<path class="l" d="M498.3,353.8 L499.7,346.7" style="stroke-width:1.1"/>
<path class="l" d="M501.6,355.5 L503.0,348.3" style="stroke-width:1.1"/>
<path class="l" d="M504.9,357.2 L506.3,350.0" style="stroke-width:1.1"/>
<path class="l" d="M508.2,358.9 L509.6,351.7" style="stroke-width:1.1"/>
<ellipse class="w" cx="513.8" cy="357.8" rx="6.6" ry="6.27" transform="rotate(0 513.8 357.8)"/>
<path class="l" d="M510.5,360.1 L517.1,356.5 M513.5,355.8 L514.8,360.8" style="stroke-width:1.0"/>
<path class="w" d="M674.6,438 L744.8,479.4 C748,481.5 749.5,484 750,488 L750.2,517.2 C750,521 748,523 744.8,524.4 L728.6,535.2 L690.8,574.8 C688.5,577 686,578 683.6,577.5 L660.2,565.8 L658.4,562.2 L683.6,537 L685.4,504.6 L635,475.8 C632,473 631.5,469 633.2,465 C635,458 638,452 644,447 C651,441 658,437.5 667.4,437.1 Z"/>
<path class="l" d="M685.4,504.6 L701.6,510"/>
<path class="l" d="M730.4,492 L743,488.4 L748.4,520.8 L732.2,529.8 Z" style="stroke-width:1.2"/>
<path class="l" d="M733.5,495 L734.5,525 M736,491 L745,489" style="stroke-width:1.0"/>
<path class="l" d="M701.6,508.2 C702,502 705,497 711,495.6 C715,495 718,497 719.6,499.2 M708,505 L709,512" style="stroke-width:1.1"/>
<path class="l" d="M723.2,508.2 L725,528 M712.4,531.6 L690.8,562.2" style="stroke-width:1.1"/>
<path class="w" d="M609,484 L620,488.5 C623,489.5 623.5,493 621,494.5 L614,494 Z" style="stroke-width:1.2"/>
<path class="l" d="M614,488 L613,494 M617,489 L616,494" style="stroke-width:1.0"/>
<ellipse class="w" cx="609" cy="486.6" rx="4.5" ry="5" transform="rotate(-20 609 486.6)"/>
<path class="l" d="M606,484 C606,488 609,491 612,490" style="stroke-width:1.0"/>
<path class="w" d="M628.4,495.5 L634,492.7 L635,499 C640,500.5 645,501 650.1,501.8 C656,503 660,505 663.4,507.4 C666,510 668,512 669,514.4 L672.5,530.5 C672,535 671,537 669,539.6 C664,542 660,543.5 655,544.5 L638.2,548.7 C635,550 633,549 631.9,546.6 L626.3,513 C626,505 627,499 628.4,495.5 Z"/>
<path class="l" d="M632.6,503.2 L637.5,546.6 M629.5,497 L633.5,500" style="stroke-width:1.2"/>
<path class="l" d="M646.6,514.4 C645.5,511 647.5,507 649,505 L651.5,503.2 C657,504 663,507 667.6,511.6 C670,517 671.5,524 671.8,529.8 C670,536 663,541 655,543.8 C652,541 650,538.5 650.1,535.4 C649.5,531 651.5,528 650.8,524.2 C650,520 647.5,517 646.6,514.4 Z" style="stroke-width:1.3"/>
<path class="l" d="M651.5,508 L657,511.6 M656.4,520 L660,535.4 M659.2,521.4 C662,523 664,525 665.3,530.5" style="stroke-width:1.1"/>
<ellipse class="l" cx="664" cy="516" rx="1.6" ry="2.2" transform="rotate(20 664 516)" style="stroke-width:1.1"/>
<path class="l" d="M631.4,551.4 C630,562 630,578 631.4,589.2 L634,590.5 M638.6,551.4 C640,562 640,572 638.6,582 C637,586 635,589 634,590.5 M633,553 C632,565 633,578 636,586" style="stroke-width:1.1"/>
<path class="w" d="M555.5,535.5 L575.9,522.75 L615,544 C618.5,546 620,549.5 620.3,554 L622.65,584.8 L551.25,656.2 L552.1,667 L543.6,670 L536.8,668 L535.1,656.2 L603.1,595 L601.4,581.4 C600,573 597,568 592.9,566.1 L555.5,546.5 Z"/>
<path class="l" d="M555.5,535.5 L594,556 C599,559 602,563.5 603,570 L605,588 M535.1,656.2 L543.6,657.5 L551.25,656.2 M543.6,657.5 L543.6,670" style="stroke-width:1.2"/>
<path class="l" d="M560.6,535.5 L575.9,528 L578,531 L562,538.5 Z" style="stroke-width:1.0"/>
<path class="l" d="M579.3,535.5 L609.9,549.1 C613,551 615,554 615,557.6 L616.7,578 M606.5,586.5 L621.8,581.4" style="stroke-width:1.0"/>
<path class="w" d="M507.6,594.7 L520.2,587 L525.1,591.9 L511.1,598.2 L511.1,606.6 L508.3,608 L505.5,603.1 L497.8,612.2 L499.2,613.6 L495.7,615.7 L492.2,610.8 L504.8,596.1 Z" style="stroke-width:1.2"/>
<path class="l" d="M511.5,593 L516.5,590 M514,596 L519,593" style="stroke-width:1.0"/>
<path class="w" d="M531.1,612.2 L522.0,606.7 L519.1,611.5 L528.2,616.9 A2.8,2.8 0 0 0 531.1,612.2 Z"/>
<ellipse class="w" cx="518.8" cy="608" rx="4.2" ry="3.9899999999999998" transform="rotate(0 518.8 608)"/>
<path class="l" d="M516.7,609.5 L520.9,607.2 M518.6,606.7 L519.4,609.9" style="stroke-width:1.0"/>
<ellipse class="w" cx="540.85" cy="620.25" rx="6.3" ry="7.7" transform="rotate(20 540.85 620.25)" style="stroke-width:1.8"/>
<path class="l" d="M541,617.5 C538.5,618 538,622 540.5,623.5" style="stroke-width:1.4"/>
<path class="w" d="M644.3,605.9 L636.9,612.4 L640.5,616.6 L647.9,610.1 A2.8,2.8 0 0 0 644.3,605.9 Z"/>
<ellipse class="w" cx="637" cy="616" rx="4.6" ry="4.369999999999999" transform="rotate(0 637 616)"/>
<path class="l" d="M634.7,617.6 L639.3,615.1 M636.8,614.6 L637.7,618.1" style="stroke-width:1.0"/>
<ellipse class="l" cx="608.3" cy="643.3" rx="3.6" ry="8.6" transform="rotate(-42.5 608.3 643.3)" style="stroke-width:1.3"/>
<ellipse class="l" cx="611.1" cy="640.7" rx="3.6" ry="8.6" transform="rotate(-42.5 611.1 640.7)" style="stroke-width:1.3"/>
<ellipse class="l" cx="613.9" cy="638.2" rx="3.6" ry="8.6" transform="rotate(-42.5 613.9 638.2)" style="stroke-width:1.3"/>
<ellipse class="l" cx="616.7" cy="635.6" rx="3.6" ry="8.6" transform="rotate(-42.5 616.7 635.6)" style="stroke-width:1.3"/>
<ellipse class="l" cx="619.5" cy="633.0" rx="3.6" ry="8.6" transform="rotate(-42.5 619.5 633.0)" style="stroke-width:1.3"/>
<ellipse class="l" cx="622.3" cy="630.5" rx="3.6" ry="8.6" transform="rotate(-42.5 622.3 630.5)" style="stroke-width:1.3"/>
<ellipse class="l" cx="625.1" cy="627.9" rx="3.6" ry="8.6" transform="rotate(-42.5 625.1 627.9)" style="stroke-width:1.3"/>
<ellipse class="l" cx="625.3" cy="627.7" rx="1.8" ry="6.2" transform="rotate(-42.5 625.3 627.7)" style="stroke-width:1.0"/>
<path class="w" d="M629,739 C622,735 616,734.5 612.4,735.7 C604,738 598,741 595.4,744.2 C590,750 587,756 585.2,762.9 C583.5,770 583,775 583.5,779.9 C584,785 586,789 588.6,791.8 C592,795 597,797.5 602.2,798.6"/>
<path class="w" d="M650.2,591.2 L663.8,581.8 C667,581 670,582.5 671.5,585.2 L675.7,595.4 L696.1,605.6 L708,605.6 L711.4,608.2 L719.9,639.6 L723.3,658.3 L721.6,663.4 L708,685.5 L685.5,728.9 C688,735 691,739 694,742.5 C698,748 701,753 702.5,759.5 C704,766 704.5,771 704.2,776.5 L700,800 C697,815 692,830 684,840 C679,845 672,848 660,849 C652,850 648,851 643,851.3 C636,851 631,849 626,846.2 C619,843 614,840 610.7,836 C607,831 605,827 603.9,822.4 C602.5,815 602,808 602.2,802 C603,793 604,786 605.6,779.9 C609,770 613,762 617.5,756.1 L629.4,739.1 L640,728 L662.1,692.3 L685.9,658.3 L689.3,654.9 L682.5,622.6 L679.1,615.8 L660.4,605.6 L650.2,593.7 Z"/>
<ellipse class="l" cx="662" cy="593.7" rx="4" ry="2.5" transform="rotate(-30 662 593.7)" style="stroke-width:1.0"/>
<path class="l" d="M655,590 L668,598 M663,588 L672,594" style="stroke-width:1.0"/>
<path class="l" d="M697.8,609 L704.6,649.8 M706,614 L714.8,643 M685.9,617.5 L696.1,609 M704.6,646.4 L714.8,646.4 M689.3,660 L704.6,671.9" style="stroke-width:1.1"/>
<path class="l" d="M662.0,605.6 L663.5,603.4" style="stroke-width:0.9"/>
<path class="l" d="M665.2,607.5 L666.7,605.3" style="stroke-width:0.9"/>
<path class="l" d="M668.4,609.4 L669.9,607.2" style="stroke-width:0.9"/>
<path class="l" d="M671.6,611.3 L673.1,609.1" style="stroke-width:0.9"/>
<path class="l" d="M674.8,613.2 L676.3,611.0" style="stroke-width:0.9"/>
<path class="l" d="M678.0,615.1 L679.5,612.9" style="stroke-width:0.9"/>
<path class="l" d="M662.1,694 C670,699 678,701 686,700.8 C694,700 702,694 708,687.2 M664,698 C672,702 680,704 688,704" style="stroke-width:1.1"/>
<path class="l" d="M694,712 L689,725 M690,738 L685,748" style="stroke-width:1.1"/>
<path class="l" d="M617.5,819 L619,834 C621,840 623,843 626,846.2 M605.6,807 L617,812 M620,765 L632,769 M629,776 L620,800" style="stroke-width:1.1"/>
<ellipse class="w" cx="667" cy="799.6" rx="22.6" ry="33.3" transform="rotate(31.4 667 799.6)"/>
<path class="l" d="M658.2,780.3 L659.7,778.9 L661.1,777.6 L662.7,776.4 L664.2,775.3 L665.8,774.4 L667.4,773.5 L669.0,772.8 L670.6,772.2 L672.2,771.7 L673.7,771.3 L675.3,771.1 L676.8,771.1 L678.2,771.1 L679.6,771.3 L681.0,771.6 L682.3,772.1 L683.5,772.7 L684.7,773.4 L685.8,774.2 L686.8,775.1 L687.7,776.2 L688.5,777.4 L689.2,778.7 L689.8,780.0 L690.4,781.5 L690.8,783.1 L691.1,784.7 L691.3,786.4 L691.3,788.1 L691.3,789.9 L691.2,791.8 L690.9,793.6 L690.5,795.5 L690.1,797.5 L689.5,799.4" style="stroke-width:1.0"/>
<path class="l" d="M655,781 L660,818 M650,790 L653,815" style="stroke-width:1.0"/>
<ellipse class="w" cx="695.1" cy="813.7" rx="27" ry="41.4" transform="rotate(23.8 695.1 813.7)"/>
<ellipse class="l" cx="696.5" cy="813" rx="22.5" ry="36.5" transform="rotate(23.8 696.5 813)"/>
<path class="l" d="M685,800 L678,838 M688,804 L681,832" style="stroke-width:1.0"/>
<ellipse class="w" cx="720.3" cy="829.4" rx="17.4" ry="26.7" transform="rotate(29.4 720.3 829.4)"/>
<path class="l" d="M704.6,849.9 L703.8,849.1 L703.2,848.2 L702.6,847.1 L702.0,846.0 L701.6,844.9 L701.3,843.6 L701.0,842.3 L700.8,840.9 L700.8,839.5 L700.8,838.0 L700.9,836.4 L701.0,834.9 L701.3,833.3 L701.7,831.7 L702.1,830.1 L702.6,828.5 L703.2,826.9 L703.9,825.3 L704.7,823.7 L705.5,822.2 L706.4,820.7 L707.3,819.2 L708.3,817.8 L709.4,816.5 L710.5,815.2" style="stroke-width:1.0"/>
<path class="l" d="M714,838 C716,834 719,834 720,831 C721,828 724,827 726,826" style="stroke-width:1.2"/>
<ellipse class="l" cx="711.5" cy="840" rx="3" ry="2" transform="rotate(-30 711.5 840)" style="stroke-width:1.2"/>
<ellipse class="l" cx="729" cy="824" rx="3" ry="2" transform="rotate(-30 729 824)" style="stroke-width:1.2"/>
<ellipse class="l" cx="720.5" cy="831.5" rx="2.5" ry="1.8" transform="rotate(-30 720.5 831.5)" style="stroke-width:1.1"/>
<path class="l" d="M738.4,829.5 L745,826 M749,823.5 L757,819.5 M761,817 L779.8,808.4 L786.5,811.5" style="stroke-width:1.2"/>
<ellipse class="w" cx="793.8" cy="816.1" rx="6.3" ry="7.2" transform="rotate(30 793.8 816.1)" style="stroke-width:2.0"/>
<ellipse class="l" cx="794.2" cy="815.6" rx="2" ry="4" transform="rotate(30 794.2 815.6)" style="stroke-width:1.2"/>
<path class="w" d="M805.4,825.2 L828.2,837.5 L830.6,832.9 L807.8,820.6 A2.6,2.6 0 0 0 805.4,825.2 Z"/>
<path class="l" d="M806.4,825.8 L807.1,820.2" style="stroke-width:1.1"/>
<path class="l" d="M809.8,827.6 L810.5,822.1" style="stroke-width:1.1"/>
<path class="l" d="M813.2,829.5 L813.9,823.9" style="stroke-width:1.1"/>
<path class="l" d="M816.7,831.3 L817.4,825.8" style="stroke-width:1.1"/>
<path class="l" d="M820.1,833.2 L820.8,827.6" style="stroke-width:1.1"/>
<path class="l" d="M823.5,835.0 L824.2,829.5" style="stroke-width:1.1"/>
<path class="l" d="M827.0,836.9 L827.7,831.3" style="stroke-width:1.1"/>
<ellipse class="w" cx="831.6" cy="836.4" rx="5" ry="4.75" transform="rotate(0 831.6 836.4)"/>
<path class="l" d="M829.1,838.1 L834.1,835.4 M831.4,834.9 L832.4,838.6" style="stroke-width:1.0"/>
<path class="w" d="M743.4,838.5 L751.8,842 L781.2,858.8 L777,868.6 L750.4,854.6 L742,847 Z"/>
<ellipse class="w" cx="742" cy="843.4" rx="4.4" ry="4.9" transform="rotate(-30 742 843.4)"/>
<path class="l" d="M751.8,842 L750.4,854.6" style="stroke-width:1.1"/>
<ellipse class="w" cx="792.9" cy="872.7" rx="18.5" ry="26" transform="rotate(26.1 792.9 872.7)"/>
<path class="l" d="M784.3,896.6 L783.1,896.3 L781.9,895.9 L780.8,895.3 L779.7,894.6 L778.7,893.9 L777.8,893.0 L776.9,892.0 L776.1,890.9 L775.5,889.7 L774.9,888.4 L774.3,887.1 L773.9,885.7 L773.6,884.2 L773.4,882.6 L773.2,881.0 L773.2,879.4 L773.3,877.8" style="stroke-width:1.0"/>
<path class="w" d="M790,868 L806,873.5 C810,875 812,878 811,881 C810,884 807,885 804,884 L788,878.5 Z"/>
<ellipse class="w" cx="790" cy="873.2" rx="3.2" ry="5.3" transform="rotate(20 790 873.2)"/>
<path class="l" d="M801,872 L798,883" style="stroke-width:1.0"/>
<path class="w" d="M850.1,863.7 L851.6,864.4 L853.1,865.3 L854.5,866.4 L855.8,867.6 L857.0,868.9 L858.1,870.4 L859.1,871.9 L860.0,873.7 L860.8,875.5 L861.5,877.4 L862.0,879.4 L862.4,881.5 L862.7,883.7 L862.9,885.9 L862.9,888.2 L862.8,890.5 L862.6,892.9 L862.2,895.3 L861.7,897.7 L861.2,900.0 L860.4,902.4 L859.6,904.7 L858.6,907.0 L857.6,909.3 L856.4,911.4 L855.2,913.5 L853.8,915.6 L852.4,917.5 L850.9,919.3 L849.3,921.0 L847.7,922.6 L846.0,924.1 L844.2,925.4 L842.5,926.6 L840.6,927.7 L838.8,928.5 L837.0,929.3 L835.1,929.9 L833.3,930.3 L831.5,930.5 L829.7,930.6 L827.9,930.5 L826.2,930.3 L824.5,929.9 L822.9,929.3 L821.4,928.6 L819.9,927.7 L818.5,926.6 L817.2,925.4 L816.0,924.1 L814.9,922.6 L813.9,921.1 L813.0,919.3 L812.2,917.5 L811.5,915.6 L811.0,913.6 L810.6,911.5 L810.3,909.3 L810.1,907.1 L810.1,904.8 L810.2,902.5 L810.4,900.1 L810.8,897.7 L811.3,895.3 L811.8,893.0 L812.6,890.6 L813.4,888.3 L814.4,886.0 L815.4,883.7 L816.6,881.6 L817.8,879.5 L819.2,877.4 L820.6,875.5 L822.1,873.7 L823.7,872.0 L825.3,870.4 L827.0,868.9 L828.8,867.6 L830.5,866.4 L832.4,865.3 L834.2,864.5 L836.0,863.7 L837.9,863.1 L839.7,862.7 L841.5,862.5 L843.3,862.4 L845.1,862.5 L846.8,862.7 L848.5,863.1 L850.1,863.7 Z"/>
<path class="l" d="M823.0,929.7 L821.5,928.7 L820.1,927.6 L818.9,926.4 L817.7,925.0 L816.6,923.5 L815.6,921.8 L814.7,920.1 L814.0,918.2 L813.3,916.2 L812.8,914.1 L812.5,912.0 L812.2,909.8 L812.1,907.5 L812.1,905.2 L812.3,902.8 L812.6,900.4 L813.0,898.0 L813.5,895.6 L814.2,893.2 L814.9,890.8 L815.8,888.5 L816.9,886.2 L818.0,884.0 L819.2,881.8 L820.5,879.7 L821.9,877.7 L823.4,875.8 L825.0,874.0 L826.6,872.4 L828.3,870.8 L830.0,869.4 L831.8,868.2 L833.6,867.0 L835.5,866.1 L837.3,865.3 L839.2,864.6 L841.1,864.2 L842.9,863.8 L844.7,863.7 L846.5,863.7 L848.3,863.9 L850.0,864.3 L851.6,864.8 L853.2,865.5 L854.7,866.4 L856.1,867.4 L857.5,868.5" style="stroke-width:1.2"/>
<path class="l" d="M822.9,929.5 L821.5,928.4 L820.3,927.1 L819.1,925.7 L818.1,924.2 L817.1,922.5 L816.3,920.7 L815.6,918.9 L815.0,916.9 L814.5,914.8 L814.1,912.7 L813.9,910.5 L813.8,908.2 L813.8,905.9 L814.0,903.6 L814.3,901.2 L814.7,898.8 L815.2,896.4 L815.9,894.1 L816.7,891.7 L817.6,889.4 L818.6,887.2 L819.7,885.0 L820.9,882.8 L822.2,880.7 L823.6,878.8 L825.0,876.9 L826.6,875.1 L828.2,873.5 L829.9,871.9 L831.6,870.5 L833.4,869.3 L835.2,868.2 L837.0,867.2 L838.8,866.4 L840.6,865.7 L842.5,865.2 L844.3,864.9 L846.1,864.7 L847.9,864.7 L849.6,864.9 L851.3,865.2 L853.0,865.7 L854.6,866.3 L856.1,867.2 L857.5,868.1" style="stroke-width:1.2"/>
<ellipse class="w" cx="842.4" cy="900.1" rx="35.5" ry="24.5" transform="rotate(-67.5 842.4 900.1)"/>
<path class="l" d="M849,898 C846,897 843,900 843.5,904 C844,907 846,908 848,907" style="stroke-width:1.2"/>
<path class="w" d="M282.6,707.6 C285,704.5 291,703.5 297.4,707.6 C300,710 301.5,713 301.5,717 L300.1,730.5 L298.75,748 L285.25,756.2 L277.2,750.75 L277.8,733.2 L278.5,717 C279,712 280.5,709.5 282.6,707.6 Z"/>
<ellipse class="l" cx="292.7" cy="719" rx="7.8" ry="10.8" transform="rotate(20 292.7 719)"/>
<path class="l" d="M294,714 C290,714 288.5,719 290,723 C291,725 293,725.5 295,724.5" style="stroke-width:1.1"/>
<path class="l" d="M285.25,729 L286,752 M277.5,735 L279,737" style="stroke-width:1.1"/>
<path class="w" d="M367.6,719.7 L378.4,715 L383.8,718.4 L383.8,722.4 L378.4,725.1 L381.1,727.8 L383.8,735.9 L371.65,742 L366.25,738.6 L367.6,733.2 L370.3,730.5 L367.6,725.1 Z" style="stroke-width:1.2"/>
<path class="l" d="M367.6,719.7 L372,723 L383.8,718.4 M372,723 L372,727 M370.3,730.5 L374,733.5 L383.8,728 M374,733.5 L371.65,742" style="stroke-width:1.0"/>
<path class="l" d="M373,736 L376,736 L374.5,738.5 Z" style="stroke-width:0.9"/>
<path class="l" d="M465,776 C465,765 464,748 469,738" style="stroke-width:3.4"/>
<path d="M465,776 C465,765 464,748 469,738" fill="none" stroke="#fff" stroke-width="1.4" stroke-linecap="round"/>
<path class="l" d="M466,776 C470,762 476,748 484,741" style="stroke-width:3.4"/>
<path d="M466,776 C470,762 476,748 484,741" fill="none" stroke="#fff" stroke-width="1.4" stroke-linecap="round"/>
<path class="l" d="M467,776 C475,766 485,756 496,749" style="stroke-width:3.4"/>
<path d="M467,776 C475,766 485,756 496,749" fill="none" stroke="#fff" stroke-width="1.4" stroke-linecap="round"/>
<path class="l" d="M468,778 C482,772 496,764 509,756" style="stroke-width:3.4"/>
<path d="M468,778 C482,772 496,764 509,756" fill="none" stroke="#fff" stroke-width="1.4" stroke-linecap="round"/>
<path class="l" d="M468,780 C485,780 505,774 523,765" style="stroke-width:3.4"/>
<path d="M468,780 C485,780 505,774 523,765" fill="none" stroke="#fff" stroke-width="1.4" stroke-linecap="round"/>
<path class="w" d="M480.4,733.4 L487.6,728.0 A2.4,2.4 0 0 0 484.8,724.2 L477.6,729.6" style="stroke-width:1.1"/>
<path class="w" d="M471.4,742.2 L481.4,734.7 A4.0,3.2 0 0 0 476.6,728.3 L466.6,735.8 Z" style="stroke-width:1.2"/>
<path class="w" d="M485.4,745.3 L502.4,734.8 A4.5,3.6 0 0 0 497.6,727.2 L480.6,737.7 Z" style="stroke-width:1.2"/>
<path class="w" d="M506.3,745.0 L513.9,740.2 A2.4,2.4 0 0 0 511.3,736.1 L503.7,741.0" style="stroke-width:1.1"/>
<path class="w" d="M496.1,753.4 L507.1,746.4 A4.0,3.2 0 0 0 502.9,739.6 L491.9,746.6 Z" style="stroke-width:1.2"/>
<path class="w" d="M509.3,760.9 L526.3,750.9 A4.5,3.6 0 0 0 521.7,743.1 L504.7,753.1 Z" style="stroke-width:1.2"/>
<path class="w" d="M523.1,769.0 L540.1,760.0 A4.5,3.6 0 0 0 535.9,752.0 L518.9,761.0 Z" style="stroke-width:1.2"/>
<path class="w" d="M407,805 C418,805 432,803 444.5,793 C452,787 457,781 461,774.5 L469,780 C465,788 460,795 455,799 C444,808 428,812.5 410,814.5 C406,814 405,806 407,805 Z" style="stroke-width:1.2"/>
<path class="l" d="M443.0,793.1 C444.5,796.1 445.6,800.1 445.6,803.1" style="stroke-width:1.1"/>
<path class="l" d="M447.6,789.1 C449.1,792.1 450.2,795.3 450.2,798.3" style="stroke-width:1.1"/>
<path class="l" d="M452.2,785.1 C453.7,788.1 454.8,790.6 454.8,793.6" style="stroke-width:1.1"/>
<path class="l" d="M456.8,781.1 C458.3,784.1 459.4,785.8 459.4,788.8" style="stroke-width:1.1"/>
<path class="l" d="M461.4,777.1 C462.9,780.1 464.0,781.0 464.0,784.0" style="stroke-width:1.1"/>
<path class="l" d="M466.0,773.1 C467.5,776.1 468.6,776.3 468.6,779.3" style="stroke-width:1.1"/>
<path class="w" d="M395.2,808.4 C388,806.5 378,807.5 368,813 C358,819 352,828 346,838 C340,848 333,852 324,854.5 L327,860 C337,858 345,853 351,845 C356,838 360,831 364,826 C366,831 365,840 363,850 L362,868 L368,869 C370,855 371,842 372,830 C373,823 378,817 384,814.5 C388,813 392,813.5 395,814 C397,812 397,810 395.2,808.4 Z" style="stroke-width:1.2"/>
<path class="l" d="M353.8,837.5 C353.8,839.5 351.7,842.0 350.7,844.2" style="stroke-width:1.1"/>
<path class="l" d="M349.2,839.9 C349.2,841.9 347.1,844.4 346.1,846.6" style="stroke-width:1.1"/>
<path class="l" d="M344.6,842.3 C344.6,844.3 342.5,846.8 341.5,849.0" style="stroke-width:1.1"/>
<path class="l" d="M340.0,844.7 C340.0,846.7 337.9,849.2 336.9,851.4" style="stroke-width:1.1"/>
<path class="l" d="M335.4,847.1 C335.4,849.1 333.3,851.6 332.3,853.8" style="stroke-width:1.1"/>
<path class="l" d="M330.8,849.5 C330.8,851.5 328.7,854.0 327.7,856.2" style="stroke-width:1.1"/>
<path class="l" d="M363,838 L370,836" style="stroke-width:1.0"/>
<path class="l" d="M363,844 L370,842" style="stroke-width:1.0"/>
<path class="l" d="M363,850 L370,848" style="stroke-width:1.0"/>
<path class="l" d="M363,856 L370,854" style="stroke-width:1.0"/>
<path class="l" d="M363,862 L370,860" style="stroke-width:1.0"/>
<path class="l" d="M324,857 C316,858 305,858 293,862" style="stroke-width:3.4"/>
<path d="M324,857 C316,858 305,858 293,862" fill="none" stroke="#fff" stroke-width="1.4" stroke-linecap="round"/>
<path class="l" d="M325,859 C318,862 312,866 305,868" style="stroke-width:3.4"/>
<path d="M325,859 C318,862 312,866 305,868" fill="none" stroke="#fff" stroke-width="1.4" stroke-linecap="round"/>
<path class="w" d="M279.2,864.8 L270.7,867.9 A2.4,2.4 0 0 0 272.4,872.4 L280.8,869.2" style="stroke-width:1.1"/>
<path class="w" d="M290.6,858.8 L278.6,863.3 A4.0,3.2 0 0 0 281.4,870.7 L293.4,866.2 Z" style="stroke-width:1.2"/>
<path class="w" d="M304.4,863.3 L284.4,870.8 A4.5,3.6 0 0 0 287.6,879.2 L307.6,871.7 Z" style="stroke-width:1.2"/>
<path class="l" d="M364,869 C358,875 348,880 336,884" style="stroke-width:3.4"/>
<path d="M364,869 C358,875 348,880 336,884" fill="none" stroke="#fff" stroke-width="1.4" stroke-linecap="round"/>
<path class="l" d="M365,870 C360,880 353,886 345,890" style="stroke-width:3.4"/>
<path d="M365,870 C360,880 353,886 345,890" fill="none" stroke="#fff" stroke-width="1.4" stroke-linecap="round"/>
<path class="l" d="M366,870 C366,882 364,892 358,898" style="stroke-width:3.4"/>
<path d="M366,870 C366,882 364,892 358,898" fill="none" stroke="#fff" stroke-width="1.4" stroke-linecap="round"/>
<path class="w" d="M334.2,879.9 L314.2,888.9 A4.5,3.6 0 0 0 317.8,897.1 L337.8,888.1 Z" style="stroke-width:1.2"/>
<path class="w" d="M334.0,892.8 L325.8,896.5 A2.4,2.4 0 0 0 327.8,900.9 L336.0,897.2" style="stroke-width:1.1"/>
<path class="w" d="M344.3,886.4 L333.3,891.4 A4.0,3.2 0 0 0 336.7,898.6 L347.7,893.6 Z" style="stroke-width:1.2"/>
<path class="w" d="M344.9,902.4 L336.9,906.4 A2.4,2.4 0 0 0 339.0,910.7 L347.1,906.6" style="stroke-width:1.1"/>
<path class="w" d="M357.2,894.4 L344.2,900.9 A4.0,3.2 0 0 0 347.8,908.1 L360.8,901.6 Z" style="stroke-width:1.2"/>
<rect x="323" y="852" width="6" height="7" fill="#fff" stroke="#1c1c1c" stroke-width="1.1" transform="rotate(-30 326 855)"/>
<rect x="361" y="866" width="8" height="5" fill="#fff" stroke="#1c1c1c" stroke-width="1.1" transform="rotate(-10 365 868)"/>
<g style="mix-blend-mode:multiply"><g transform="translate(113.2,0) skewX(-14)">
<path d="M136,411.0 L157,411.0 L157,449.0 L136,449.0 Z M117.5,445.0 L154,445.0 Q157,445.0 157,448.0 L157,451.0 Q157,454.0 154,454.0 L117.5,454.0 Q114.5,454.0 114.5,451.0 L114.5,448.0 Q114.5,445.0 117.5,445.0 Z M114.5,438.0 L130,438.0 L130,450.0 L114.5,450.0 Z" fill="#e9e9e9"/>
<path d="M171,411.0 L210,411.0 Q213,411.0 213,414.0 L213,416.0 Q213,419.0 210,419.0 L171,419.0 Q168,419.0 168,416.0 L168,414.0 Q168,411.0 171,411.0 Z M168,414.0 L182,414.0 L182,433.0 L168,433.0 Z M171,430.5 L210,430.5 Q213,430.5 213,433.5 L213,436.5 Q213,439.5 210,439.5 L171,439.5 Q168,439.5 168,436.5 L168,433.5 Q168,430.5 171,430.5 Z M198,435.0 L213,435.0 L213,450.0 L198,450.0 Z M171,445.0 L210,445.0 Q213,445.0 213,448.0 L213,451.0 Q213,454.0 210,454.0 L171,454.0 Q168,454.0 168,451.0 L168,448.0 Q168,445.0 171,445.0 Z" fill="#e9e9e9"/>
<path d="M225,454.0 L225,417.0 Q225,411.0 231,411.0 L267,411.0 Q273,411.0 273,417.0 L273,431.0 Q273,437.0 267,437.0 L242.5,437.0 L242.5,454.0 Z" fill="#e9e9e9"/>
<path d="M242.5,419.0 L242.5,430.5 L255.5,430.5 L255.5,419.0 Z" fill="#fff"/>
<path d="M333,411.0 L370,411.0 Q376,411.0 376,417.0 L376,448.0 Q376,454.0 370,454.0 L333,454.0 Q327,454.0 327,448.0 L327,417.0 Q327,411.0 333,411.0 Z" fill="#e9e9e9"/>
<path d="M344.5,417.5 L360.5,417.5 L360.5,447.5 L344.5,447.5 Z M358.5,424.0 L377,424.0 L377,441.0 L358.5,441.0 Z" fill="#fff"/>
<path d="M380,411.0 L417,411.0 Q423,411.0 423,417.0 L423,448.0 Q423,454.0 417,454.0 L380,454.0 Q374,454.0 374,448.0 L374,417.0 Q374,411.0 380,411.0 Z" fill="#e9e9e9"/>
<path d="M393.0,417.5 L404.0,417.5 Q405.5,417.5 405.5,419.0 L405.5,446.0 Q405.5,447.5 404.0,447.5 L393.0,447.5 Q391.5,447.5 391.5,446.0 L391.5,419.0 Q391.5,417.5 393.0,417.5 Z" fill="#fff"/>
<path d="M448,454.0 L448,417.0 Q448,411.0 454,411.0 L488,411.0 Q494,411.0 494,417.0 L494,428.0 Q494,435.0 488,437.0 L499,454.0 L472,454.0 L469.5,437.0 L465.5,437.0 L465.5,454.0 Z" fill="#e9e9e9"/>
<path d="M465.5,418.5 L465.5,430.5 L476.5,430.5 L476.5,418.5 Z" fill="#fff"/>
<path d="M498,454.0 L498,417.0 Q498,411.0 504,411.0 L541,411.0 Q547,411.0 547,417.0 L547,431.0 Q547,437.0 541,437.0 L515.5,437.0 L515.5,454.0 Z" fill="#e9e9e9"/>
<path d="M515.5,419.0 L515.5,430.5 L529.5,430.5 L529.5,419.0 Z" fill="#fff"/>
<path d="M567,411.0 L607,411.0 Q613,411.0 613,417.0 L613,448.0 Q613,454.0 607,454.0 L567,454.0 Q561,454.0 561,448.0 L561,417.0 Q561,411.0 567,411.0 Z" fill="#e9e9e9"/>
<path d="M580.0,417.5 L594.0,417.5 Q595.5,417.5 595.5,419.0 L595.5,446.0 Q595.5,447.5 594.0,447.5 L580.0,447.5 Q578.5,447.5 578.5,446.0 L578.5,419.0 Q578.5,417.5 580.0,417.5 Z" fill="#fff"/>
<path d="M624,454.0 L624,417.0 Q624,411.0 630,411.0 L672,411.0 Q678,411.0 678,417.0 L678,428.0 Q678,435.0 672,437.0 L683,454.0 L656,454.0 L645.5,437.0 L641.5,437.0 L641.5,454.0 Z" fill="#e9e9e9"/>
<path d="M641.5,418.5 L641.5,430.5 L660.5,430.5 L660.5,418.5 Z" fill="#fff"/>
<path d="M684,454 L715.3,411 L734,411 L750,454 L731,454 L729,444 L706,444 L699,454 Z" fill="#e9e9e9"/>
<path d="M713,436 L727.5,436 L724,421 Z" fill="#fff"/>
<path d="M751,411.0 L800.5,411.0 L800.5,420.6 L751,420.6 Z M772,411.0 L790,411.0 L790,454.0 L772,454.0 Z" fill="#e9e9e9"/>
<path d="M807,411.0 L823,411.0 L823,454.0 L807,454.0 Z" fill="#e9e9e9"/>
<path d="M846.5,411.0 L886.0,411.0 Q892.0,411.0 892.0,417.0 L892.0,448.0 Q892.0,454.0 886.0,454.0 L846.5,454.0 Q840.5,454.0 840.5,448.0 L840.5,417.0 Q840.5,411.0 846.5,411.0 Z" fill="#e9e9e9"/>
<path d="M859.5,417.5 L873.0,417.5 Q874.5,417.5 874.5,419.0 L874.5,446.0 Q874.5,447.5 873.0,447.5 L859.5,447.5 Q858.0,447.5 858.0,446.0 L858.0,419.0 Q858.0,417.5 859.5,417.5 Z" fill="#fff"/>
<path d="M901,454 L901,411 L927,411 L948,438 L948,411 L958,411 L958,454 L932,454 L911,427 L911,454 Z" fill="#e9e9e9"/>
</g>
<path d="M61.25,408.75 L116.25,408.75 L108.75,455 L73.75,455 L68.75,481.25 L25,481.25 L31.25,455 L53.75,455 Z" fill="none" stroke="#e2e2e2" stroke-width="1.2"/>
<path d="M83,410.5 L114.3,410.5 L107.2,453.3 L75.5,453.3 Z" fill="#e9e9e9"/>
<path d="M51.5,456.7 L72,456.7 L67.2,479.5 L46.8,479.5 Z" fill="#e9e9e9"/>
</g>
</svg>
</body></html>
